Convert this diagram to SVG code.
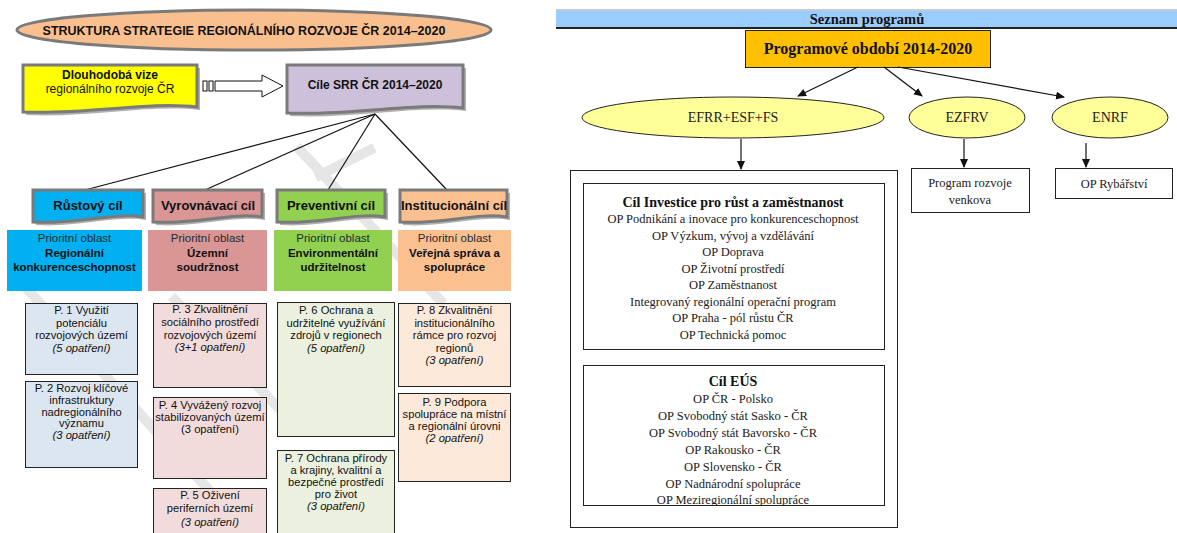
<svg xmlns="http://www.w3.org/2000/svg" width="1177" height="533" viewBox="0 0 1177 533">
<style>
.sans{font-family:"Liberation Sans",Arial,sans-serif}
.serif{font-family:"Liberation Serif","Times New Roman",serif}
.gshadow{fill:#b0b0b0}
.gbox{stroke:#7a7a7a;stroke-width:3}
.pbox{stroke:#222;stroke-width:1}
.lbl{font-size:13px;font-weight:bold;fill:#111;text-anchor:middle}
.po{font-size:11.5px;fill:#1d2b33;text-anchor:middle}
.pob{font-size:11.5px;font-weight:bold;fill:#111;text-anchor:middle}
.pt{font-size:11.2px;fill:#111;text-anchor:middle}
.it{font-style:italic}
.rb{fill:#fff;stroke:#222;stroke-width:1}
.rt{font-size:12.5px;fill:#221a22;text-anchor:middle}
.rtb{font-size:14px;font-weight:bold;fill:#111;text-anchor:middle}
.conn{stroke:#111;stroke-width:1.2;fill:none}
.wm{stroke:#e6e6e6;stroke-width:10;fill:none;stroke-linecap:square}
</style>
<defs>
<marker id="ah" markerWidth="10" markerHeight="10" refX="8" refY="4" orient="auto" markerUnits="userSpaceOnUse">
<path d="M0,0 L9,4 L0,8 Z" fill="#111"/>
</marker>
<clipPath id="eusclip"><rect x="583" y="365" width="302" height="140"/></clipPath>
</defs>
<rect width="1177" height="533" fill="#fff"/>

<g id="watermark">
<path class="wm" d="M30,292 L245,530"/>
<path class="wm" d="M175,300 L290,420"/>
<path class="wm" d="M300,150 L440,300"/>
<path class="wm" d="M320,175 L370,150"/>
</g>

<g id="title">
<ellipse cx="254" cy="30" rx="237" ry="20" fill="#f9bf8f" stroke="#7a7a7a" stroke-width="3"/>
<text class="sans" x="244" y="34.5" font-size="12.5" font-weight="bold" text-anchor="middle" fill="#111">STRUKTURA STRATEGIE REGIONÁLNÍHO ROZVOJE ČR 2014–2020</text>
</g>

<g id="vize">
<path class="gshadow" d="M26,68 H200 V110 C150,104 90,118 26,115 Z"/>
<path class="gbox" fill="#ffff00" d="M23,65 H197 V107 C147,101 87,115 23,112 Z"/>
<text class="sans" x="110" y="78.5" font-size="12" font-weight="bold" text-anchor="middle" fill="#111">Dlouhodobá vize</text>
<text class="sans" x="110" y="93" font-size="12" text-anchor="middle" fill="#111">regionálního rozvoje ČR</text>
</g>

<g id="vize-arrow">
<rect x="203" y="81" width="4" height="10" fill="#fff" stroke="#111" stroke-width="1"/>
<rect x="209" y="81" width="4" height="10" fill="#fff" stroke="#111" stroke-width="1"/>
<path d="M215,81 H262 V75 L283,86 L262,97 V91 H215 Z" fill="#fff" stroke="#111" stroke-width="1"/>
</g>

<g id="cile">
<path class="gshadow" d="M290,68 H466 V111 C416,105 356,119 290,116 Z"/>
<path class="gbox" fill="#ccc0da" d="M287,65 H463 V108 C413,102 353,116 287,113 Z"/>
<text class="sans" x="375" y="89" font-size="12" font-weight="bold" text-anchor="middle" fill="#111">Cíle SRR ČR 2014–2020</text>
</g>

<g id="connectors-left">
<path class="conn" d="M375,114 L85,190"/>
<path class="conn" d="M375,114 L205,190"/>
<path class="conn" d="M375,114 L328,190"/>
<path class="conn" d="M375,114 L447,190"/>
</g>

<g id="goal-rustovy">
<path class="gshadow" d="M36,193 H146 V220 C116,215 76,228 36,225 Z"/>
<path class="gbox" fill="#00b0f0" d="M33,190 H143 V217 C113,212 73,225 33,222 Z"/>
<text class="sans lbl" x="88" y="210">Růstový cíl</text>
</g>
<g id="goal-vyrovnavaci">
<path class="gshadow" d="M156,193 H265 V220 C235,215 196,228 156,225 Z"/>
<path class="gbox" fill="#d99694" d="M153,190 H262 V217 C232,212 193,225 153,222 Z"/>
<text class="sans lbl" x="208" y="210">Vyrovnávací cíl</text>
</g>
<g id="goal-preventivni">
<path class="gshadow" d="M280,193 H388 V220 C358,215 320,228 280,225 Z"/>
<path class="gbox" fill="#92d050" d="M277,190 H385 V217 C355,212 317,225 277,222 Z"/>
<text class="sans lbl" x="331" y="210">Preventivní cíl</text>
</g>
<g id="goal-institucionalni">
<path class="gshadow" d="M403,193 H510 V220 C480,215 443,228 403,225 Z"/>
<path class="gbox" fill="#fac090" d="M400,190 H507 V217 C477,212 440,225 400,222 Z"/>
<text class="sans lbl" x="454" y="210">Institucionální cíl</text>
</g>

<g id="po-1">
<rect x="7" y="230" width="135" height="61" fill="#00b0f0"/>
<text class="sans po" x="74.5" y="242">Prioritní oblast</text>
<text class="sans pob" x="74.5" y="257">Regionální</text>
<text class="sans pob" x="74.5" y="271">konkurenceschopnost</text>
</g>
<g id="po-2">
<rect x="148" y="230" width="119" height="61" fill="#d99694"/>
<text class="sans po" x="207.5" y="242">Prioritní oblast</text>
<text class="sans pob" x="207.5" y="257">Územní</text>
<text class="sans pob" x="207.5" y="271">soudržnost</text>
</g>
<g id="po-3">
<rect x="274" y="230" width="118" height="61" fill="#92d050"/>
<text class="sans po" x="333" y="242">Prioritní oblast</text>
<text class="sans pob" x="333" y="257">Environmentální</text>
<text class="sans pob" x="333" y="271">udržitelnost</text>
</g>
<g id="po-4">
<rect x="398" y="230" width="113" height="61" fill="#fac090"/>
<text class="sans po" x="454.5" y="242">Prioritní oblast</text>
<text class="sans pob" x="454.5" y="257">Veřejná správa a</text>
<text class="sans pob" x="454.5" y="271">spolupráce</text>
</g>

<g id="p1">
<rect class="pbox" x="25.5" y="303.5" width="112" height="71" fill="#dce6f1"/>
<text class="sans pt" x="81.5" y="314">P. 1 Využití</text>
<text class="sans pt" x="81.5" y="326.5">potenciálu</text>
<text class="sans pt" x="81.5" y="339">rozvojových území</text>
<text class="sans pt it" x="81.5" y="351.5">(5 opatření)</text>
</g>
<g id="p2">
<rect class="pbox" x="25.5" y="381.5" width="112" height="86" fill="#dce6f1"/>
<text class="sans pt" x="81.5" y="392">P. 2 Rozvoj klíčové</text>
<text class="sans pt" x="81.5" y="403.8">infrastruktury</text>
<text class="sans pt" x="81.5" y="415.6">nadregionálního</text>
<text class="sans pt" x="81.5" y="427.4">významu</text>
<text class="sans pt it" x="81.5" y="439.2">(3 opatření)</text>
</g>
<g id="p3">
<rect class="pbox" x="153.5" y="303.5" width="113" height="84" fill="#f2dcdb"/>
<text class="sans pt" x="210" y="313">P. 3 Zkvalitnění</text>
<text class="sans pt" x="210" y="326">sociálního prostředí</text>
<text class="sans pt" x="210" y="338.5">rozvojových území</text>
<text class="sans pt it" x="210" y="351">(3+1 opatření)</text>
</g>
<g id="p4">
<rect class="pbox" x="153.5" y="397.5" width="113" height="81" fill="#f2dcdb"/>
<text class="sans pt" x="210" y="409">P. 4 Vyvážený rozvoj</text>
<text class="sans pt" x="210" y="421">stabilizovaných území</text>
<text class="sans pt" x="210" y="433">(3 opatření)</text>
</g>
<g id="p5">
<rect class="pbox" x="153.5" y="488.5" width="113" height="50" fill="#f2dcdb"/>
<text class="sans pt" x="210" y="499">P. 5 Oživení</text>
<text class="sans pt" x="210" y="512">periferních území</text>
<text class="sans pt it" x="210" y="525.5">(3 opatření)</text>
</g>
<g id="p6">
<rect class="pbox" x="277.5" y="302.5" width="117" height="134" fill="#ebf1de"/>
<text class="sans pt" x="336" y="314">P. 6 Ochrana a</text>
<text class="sans pt" x="336" y="327">udržitelné využívání</text>
<text class="sans pt" x="336" y="339">zdrojů v regionech</text>
<text class="sans pt it" x="336" y="351.5">(5 opatření)</text>
</g>
<g id="p7">
<rect class="pbox" x="277.5" y="450.5" width="117" height="90" fill="#ebf1de"/>
<text class="sans pt" x="336" y="462">P. 7 Ochrana přírody</text>
<text class="sans pt" x="336" y="474">a krajiny, kvalitní a</text>
<text class="sans pt" x="336" y="486">bezpečné prostředí</text>
<text class="sans pt" x="336" y="498">pro život</text>
<text class="sans pt it" x="336" y="510">(3 opatření)</text>
</g>
<g id="p8">
<rect class="pbox" x="398.5" y="303.5" width="112" height="83" fill="#fde9d9"/>
<text class="sans pt" x="454.5" y="314">P. 8 Zkvalitnění</text>
<text class="sans pt" x="454.5" y="327">institucionálního</text>
<text class="sans pt" x="454.5" y="339">rámce pro rozvoj</text>
<text class="sans pt" x="454.5" y="352">regionů</text>
<text class="sans pt it" x="454.5" y="364">(3 opatření)</text>
</g>
<g id="p9">
<rect class="pbox" x="398.5" y="393.5" width="112" height="88" fill="#fde9d9"/>
<text class="sans pt" x="454.5" y="406">P. 9 Podpora</text>
<text class="sans pt" x="454.5" y="418">spolupráce na místní</text>
<text class="sans pt" x="454.5" y="430">a regionální úrovni</text>
<text class="sans pt it" x="454.5" y="442">(2 opatření)</text>
</g>

<g id="header">
<rect x="556" y="9" width="621" height="19" fill="#99ccff"/>
<rect x="556" y="9" width="621" height="2" fill="#c4ccd6"/>
<rect x="556" y="27" width="621" height="2" fill="#222"/>
<text class="serif" x="867" y="23.5" font-size="14.5" font-weight="bold" text-anchor="middle" fill="#111">Seznam programů</text>
</g>

<g id="obdobi">
<rect x="745.5" y="30.5" width="245" height="37" fill="#ffc000" stroke="#222" stroke-width="1"/>
<text class="serif" x="868" y="54" font-size="16" font-weight="bold" text-anchor="middle" fill="#111">Programové období 2014-2020</text>
</g>

<g id="efrr">
<ellipse cx="733" cy="117.5" rx="151" ry="20.5" fill="#ffff99" stroke="#222" stroke-width="1"/>
<text class="serif" x="733" y="122" font-size="14" text-anchor="middle" fill="#222">EFRR+ESF+FS</text>
</g>
<g id="ezfrv">
<ellipse cx="967" cy="117.5" rx="58" ry="20.5" fill="#ffff99" stroke="#222" stroke-width="1"/>
<text class="serif" x="967" y="122" font-size="14" text-anchor="middle" fill="#222">EZFRV</text>
</g>
<g id="enrf">
<ellipse cx="1110" cy="117.5" rx="58" ry="20.5" fill="#ffff99" stroke="#222" stroke-width="1"/>
<text class="serif" x="1110" y="122" font-size="14" text-anchor="middle" fill="#222">ENRF</text>
</g>

<g id="connectors-right">
<path class="conn" d="M858,67 L798,96" marker-end="url(#ah)"/>
<path class="conn" d="M884,67 L922,96" marker-end="url(#ah)"/>
<path class="conn" d="M898,67 L1064,97" marker-end="url(#ah)"/>
<path class="conn" d="M741,139 V169" marker-end="url(#ah)"/>
<path class="conn" d="M964,139 V167" marker-end="url(#ah)"/>
<path class="conn" d="M1086,143 V167" marker-end="url(#ah)"/>
</g>

<g id="efrr-programs">
<rect class="rb" x="570.5" y="170.5" width="327" height="357"/>
<rect class="rb" x="583.5" y="183.5" width="301" height="166"/>
<text class="serif rtb" x="733" y="207">Cíl Investice pro růst a zaměstnanost</text>
<text class="serif rt" x="733" y="223">OP Podnikání a inovace pro konkurenceschopnost</text>
<text class="serif rt" x="733" y="239.5">OP Výzkum, vývoj a vzdělávání</text>
<text class="serif rt" x="733" y="256">OP Doprava</text>
<text class="serif rt" x="733" y="272.5">OP Životní prostředí</text>
<text class="serif rt" x="733" y="289">OP Zaměstnanost</text>
<text class="serif rt" x="733" y="305.5">Integrovaný regionální operační program</text>
<text class="serif rt" x="733" y="322">OP Praha - pól růstu ČR</text>
<text class="serif rt" x="733" y="338.5">OP Technická pomoc</text>
<rect class="rb" x="583.5" y="365.5" width="301" height="140"/>
<g clip-path="url(#eusclip)">
<text class="serif rtb" x="733" y="386">Cíl EÚS</text>
<text class="serif rt" x="733" y="402.5">OP ČR - Polsko</text>
<text class="serif rt" x="733" y="419.5">OP Svobodný stát Sasko - ČR</text>
<text class="serif rt" x="733" y="436.5">OP Svobodný stát Bavorsko - ČR</text>
<text class="serif rt" x="733" y="453.5">OP Rakousko - ČR</text>
<text class="serif rt" x="733" y="470.5">OP Slovensko - ČR</text>
<text class="serif rt" x="733" y="487.5">OP Nadnárodní spolupráce</text>
<text class="serif rt" x="733" y="504">OP Meziregionální spolupráce</text>
</g>
</g>

<g id="prv">
<rect class="rb" x="911.5" y="168.5" width="118" height="44"/>
<text class="serif rt" x="970" y="187">Program rozvoje</text>
<text class="serif rt" x="970" y="204">venkova</text>
</g>
<g id="rybarstvi">
<rect class="rb" x="1055.5" y="168.5" width="117" height="30"/>
<text class="serif rt" x="1114" y="188">OP Rybářství</text>
</g>
</svg>
